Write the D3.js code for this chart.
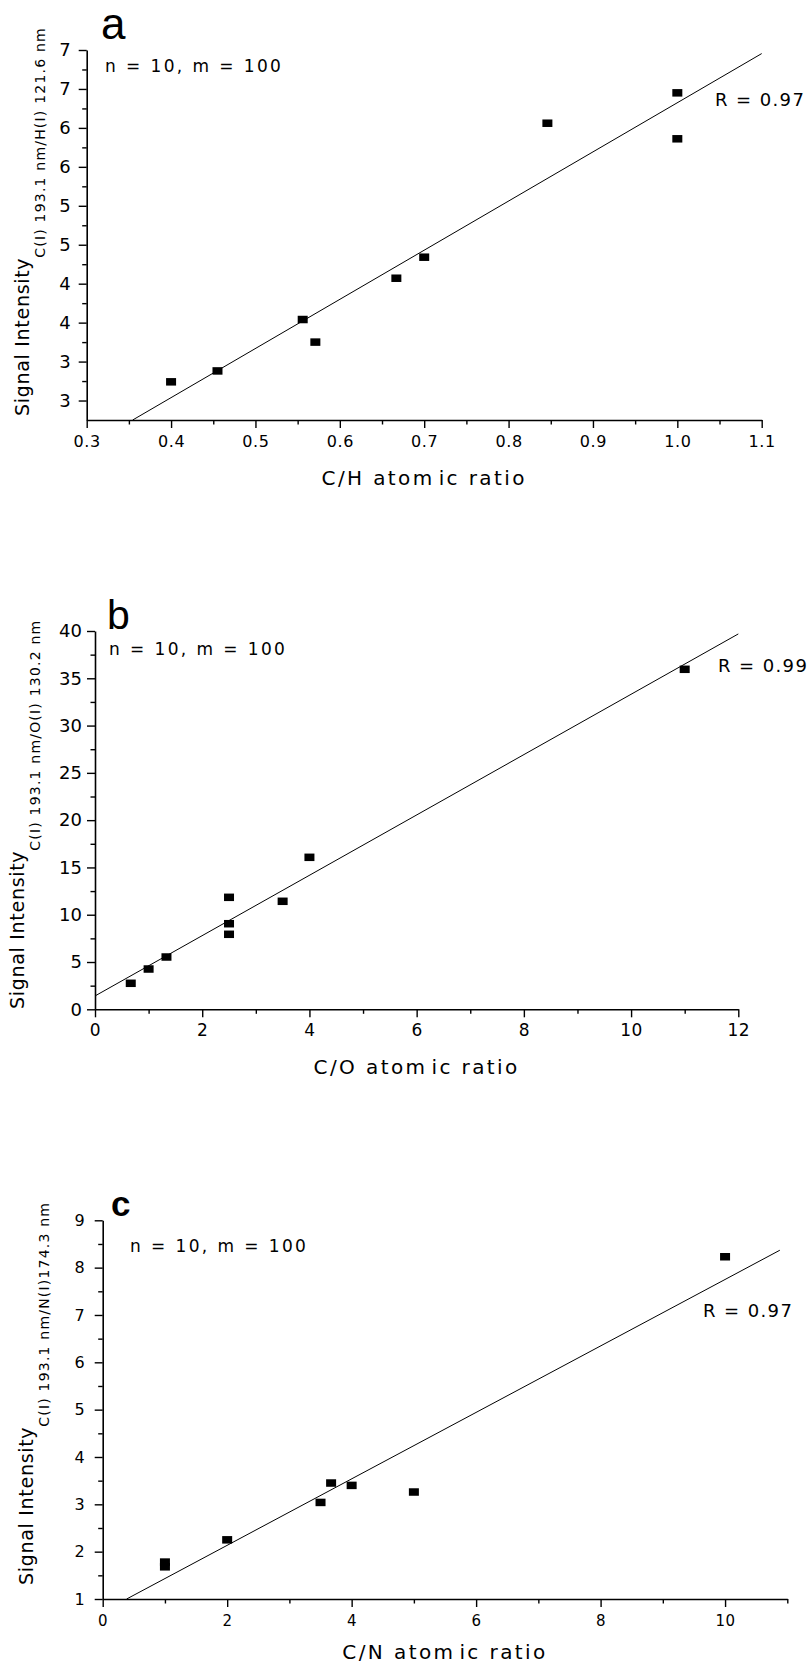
<!DOCTYPE html>
<html>
<head>
<meta charset="utf-8">
<script src="https://cdn.jsdelivr.net/npm/d3@7"></script>
<style>
  html, body { margin: 0; padding: 0; background: #fff; }
  svg { display: block; }
  text { fill: #000; font-family: "DejaVu Sans", Verdana, sans-serif; }
  .domain { stroke: #000; stroke-width: 1.6; }
  .tick line { stroke: #000; stroke-width: 1.4; }
</style>
</head>
<body>
<svg id="chart" width="809" height="1666"></svg>
<script>
// ---- Panel a: C/H ----
const chX = [0.4, 0.455, 0.556, 0.571, 0.667, 0.7, 0.846, 1.0, 1.0];
const chY = [2.74, 2.88, 3.54, 3.25, 4.07, 4.34, 6.06, 6.45, 5.86];
const chFit = [6.31, 0.013];          // slope, intercept
const chFitX = [0.3545, 1.1];
const chXTicks = [0.3, 0.4, 0.5, 0.6, 0.7, 0.8, 0.9, 1.0, 1.1];
const chXLabels = ["0.3", "0.4", "0.5", "0.6", "0.7", "0.8", "0.9", "1.0", "1.1"];
const chYTicks = [2.5, 3.0, 3.5, 4.0, 4.5, 5.0, 5.5, 6.0, 6.5, 7.0];
const chYLabels = ["3", "3", "4", "4", "5", "5", "6", "6", "7", "7"];

// ---- Panel b: C/O ----
const coX = [0.667, 1.0, 1.333, 2.5, 2.5, 2.5, 3.5, 4.0, 11.0];
const coY = [2.75, 4.26, 5.53, 11.84, 9.05, 7.93, 11.42, 16.07, 35.95];
const coFit = [3.19, 1.41];
const coFitX = [0, 12];
const coXTicks = [0, 2, 4, 6, 8, 10, 12];
const coXLabels = ["0", "2", "4", "6", "8", "10", "12"];
const coYTicks = [0, 5, 10, 15, 20, 25, 30, 35, 40];
const coYLabels = ["0", "5", "10", "15", "20", "25", "30", "35", "40"];

// ---- Panel c: C/N ----
const cnX = [1, 1, 2, 3.5, 3.67, 4, 5, 10];
const cnY = [1.78, 1.68, 2.25, 3.04, 3.45, 3.40, 3.26, 8.23];
const cnFit = [0.702, 0.73];
const cnFitX = [0.385, 10.88];
const cnXTicks = [0, 2, 4, 6, 8, 10];
const cnXLabels = ["0", "2", "4", "6", "8", "10"];
const cnYTicks = [1, 2, 3, 4, 5, 6, 7, 8, 9];
const cnYLabels = ["1", "2", "3", "4", "5", "6", "7", "8", "9"];

const panels = [
  {
    letter: "a", letterBold: false, letterSize: 44,
    xs: chX, ys: chY, fit: chFit, fitX: chFitX,
    xDomain: [0.3, 1.1], yDomain: [2.25, 7.0],
    xTicks: chXTicks, xLabels: chXLabels, xMinor: d3.range(0.35, 1.1, 0.1),
    yTicks: chYTicks, yLabels: chYLabels, yMinor: d3.range(2.75, 7.0, 0.5),
    xTitle: ["C/H atom", "ic ratio"], sub: "C(I) 193.1 nm/H(I) 121.6 nm",
    r: "R = 0.97",
    box: { l: 86.7, r: 761.7, t: 50, b: 420 },
    letterPos: [101, 39], notePos: [105, 72], rPos: [715, 106],
    yTitlePos: [29, 416], xTitleY: 485,
    xLabelSize: 16, yLabelSize: 18, yPad: 8
  },
  {
    letter: "b", letterBold: false, letterSize: 41,
    xs: coX, ys: coY, fit: coFit, fitX: coFitX,
    xDomain: [0, 12], yDomain: [0, 40],
    xTicks: coXTicks, xLabels: coXLabels, xMinor: d3.range(1, 12, 2),
    yTicks: coYTicks, yLabels: coYLabels, yMinor: d3.range(2.5, 40, 5),
    xTitle: ["C/O atom", "ic ratio"], sub: "C(I) 193.1 nm/O(I) 130.2 nm",
    r: "R = 0.99",
    box: { l: 95, r: 738.3, t: 631, b: 1009.3 },
    letterPos: [107, 629], notePos: [109, 655], rPos: [718, 672],
    yTitlePos: [24, 1009], xTitleY: 1074,
    xLabelSize: 17, yLabelSize: 18, yPad: 5
  },
  {
    letter: "c", letterBold: true, letterSize: 35,
    xs: cnX, ys: cnY, fit: cnFit, fitX: cnFitX,
    xDomain: [0, 11], yDomain: [1, 9],
    xTicks: cnXTicks, xLabels: cnXLabels, xMinor: d3.range(1, 12, 2),
    yTicks: cnYTicks, yLabels: cnYLabels, yMinor: d3.range(1.5, 9, 1),
    xTitle: ["C/N atom", "ic ratio"], sub: "C(I) 193.1 nm/N(I)174.3 nm",
    r: "R = 0.97",
    box: { l: 102.7, r: 787.3, t: 1220.3, b: 1599 },
    letterPos: [111, 1216], notePos: [130, 1252], rPos: [703, 1317],
    yTitlePos: [33, 1585], xTitleY: 1659,
    xLabelSize: 15, yLabelSize: 16, yPad: 10
  }
];

const svg = d3.select("#chart");

panels.forEach(p => {
  const g = svg.append("g");
  const x = d3.scaleLinear().domain(p.xDomain).range([p.box.l, p.box.r]);
  const y = d3.scaleLinear().domain(p.yDomain).range([p.box.b, p.box.t]);

  // minor ticks
  g.append("g")
    .attr("transform", `translate(0,${p.box.b})`)
    .call(d3.axisBottom(x).tickValues(p.xMinor).tickSize(4.5).tickFormat(""))
    .call(s => s.select(".domain").remove());
  g.append("g")
    .attr("transform", `translate(${p.box.l},0)`)
    .call(d3.axisLeft(y).tickValues(p.yMinor).tickSize(4.5).tickFormat(""))
    .call(s => s.select(".domain").remove());

  // major x axis
  const xa = g.append("g")
    .attr("transform", `translate(0,${p.box.b})`)
    .call(d3.axisBottom(x).tickValues(p.xTicks).tickSizeInner(8).tickSizeOuter(0)
      .tickFormat((d, i) => p.xLabels[i]));
  xa.selectAll("text")
    .attr("y", 27).attr("dy", null)
    .style("font-size", p.xLabelSize + "px")
    .style("letter-spacing", "0.6px")
    .style("font-family", "'DejaVu Sans', sans-serif");

  // major y axis
  const ya = g.append("g")
    .attr("transform", `translate(${p.box.l},0)`)
    .call(d3.axisLeft(y).tickValues(p.yTicks).tickSizeInner(8).tickSizeOuter(0)
      .tickPadding(p.yPad).tickFormat((d, i) => p.yLabels[i]));
  ya.selectAll("text")
    .style("font-size", p.yLabelSize + "px")
    .style("font-family", "'DejaVu Sans', sans-serif");

  // regression line
  const [m, b] = p.fit;
  g.append("line")
    .attr("x1", x(p.fitX[0])).attr("y1", y(m * p.fitX[0] + b))
    .attr("x2", x(p.fitX[1])).attr("y2", y(m * p.fitX[1] + b))
    .attr("stroke", "#000").attr("stroke-width", 1);

  // data markers
  g.selectAll("rect.pt")
    .data(p.xs.map((v, i) => [v, p.ys[i]]))
    .join("rect")
    .attr("class", "pt")
    .attr("x", d => x(d[0]) - 5)
    .attr("y", d => y(d[1]) - 3.75)
    .attr("width", 10).attr("height", 7.5)
    .attr("fill", "#000");

  // panel letter
  g.append("text")
    .attr("x", p.letterPos[0]).attr("y", p.letterPos[1])
    .style("font-family", "'Liberation Sans', Arial, sans-serif")
    .style("font-size", p.letterSize + "px")
    .style("font-weight", p.letterBold ? "bold" : "normal")
    .text(p.letter);

  // sample note
  g.append("text")
    .attr("x", p.notePos[0]).attr("y", p.notePos[1])
    .style("font-size", "17px").style("letter-spacing", "2.4px")
    .text("n = 10, m = 100");

  // correlation
  g.append("text")
    .attr("x", p.rPos[0]).attr("y", p.rPos[1])
    .style("font-size", "18px").style("letter-spacing", "1.4px")
    .text(p.r);

  // x title
  const xt = g.append("text")
    .attr("x", (p.box.l + p.box.r) / 2).attr("y", p.xTitleY)
    .attr("text-anchor", "middle")
    .style("font-size", "20px").style("letter-spacing", "2.4px");
  xt.append("tspan").text(p.xTitle[0]);
  xt.append("tspan").attr("dx", 4).text(p.xTitle[1]);

  // y title with subscript
  const yt = g.append("text")
    .attr("transform", `translate(${p.yTitlePos[0]},${p.yTitlePos[1]}) rotate(-90)`)
    .attr("text-anchor", "start")
    .style("font-size", "19px").style("letter-spacing", "0.7px");
  yt.append("tspan").text("Signal Intensity");
  yt.append("tspan").attr("dy", 16)
    .style("font-size", "14px").style("letter-spacing", "1.2px")
    .text(p.sub);
});
</script>
</body>
</html>
